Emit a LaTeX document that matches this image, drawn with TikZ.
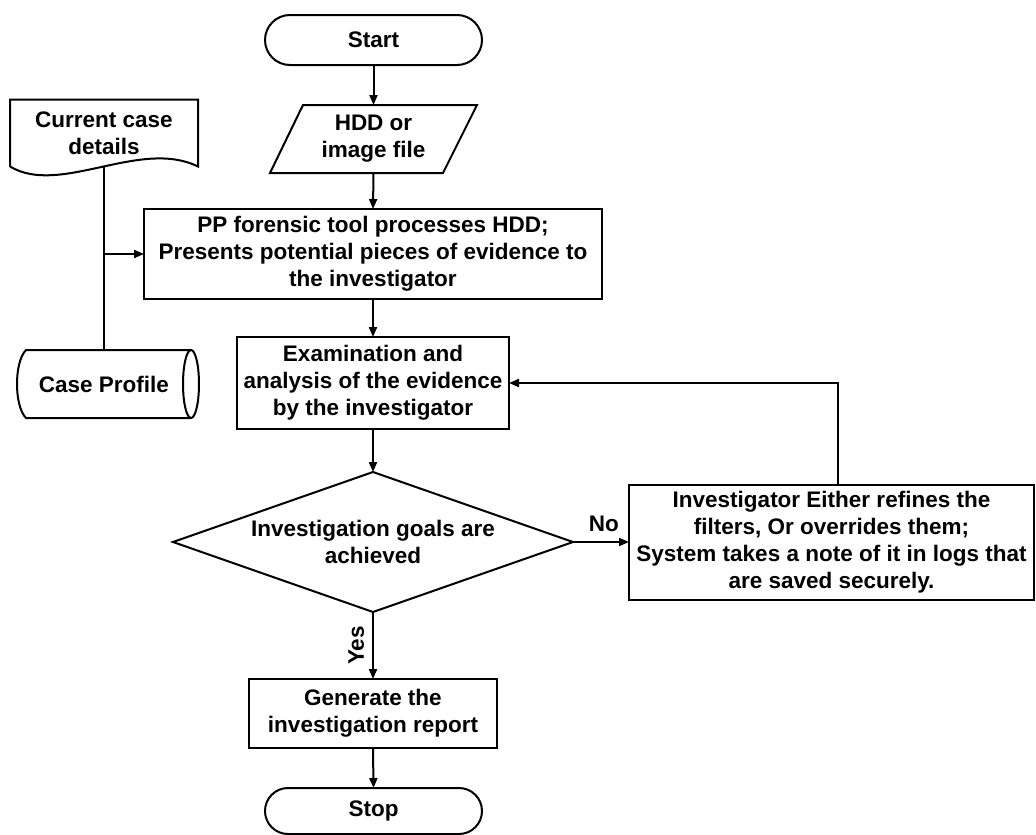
\documentclass[tikz,border=0pt]{standalone}
\usepackage{fontspec}
\setmainfont{Liberation Sans}
\usetikzlibrary{arrows.meta,calc}
\begin{document}
\begin{tikzpicture}[x=1pt,y=-1pt,
  every node/.style={font=\fontsize{22.5}{27}\selectfont\bfseries, align=center, inner sep=0pt, outer sep=0pt},
  line/.style={line width=2pt},
  arr/.style={line width=2pt,-{Triangle[length=10pt,width=8pt]}},
  box/.style={draw, line width=2pt, rectangle},
  term/.style={draw, line width=2pt, rectangle, rounded corners=25pt, minimum width=217pt, minimum height=50pt},
  lbl/.style={font=\fontsize{22.5}{27}\selectfont\bfseries}]
\useasboundingbox (0,0) rectangle (1036,835);

% nodes
\node[term] (start) at (373.5,40) {Start};
\node[minimum width=207pt, minimum height=68pt] (hdd) at (373.5,139) {HDD or\\image file};
\node[box, minimum width=458pt, minimum height=90pt] (pp) at (373,254) {PP forensic tool processes HDD;\\Presents potential pieces of evidence to\\the investigator};
\node[box, minimum width=272pt, minimum height=92pt] (exam) at (373,383) {Examination and\\analysis of the evidence\\by the investigator};
\node[minimum width=400pt, minimum height=140pt] (dec) at (373,542) {Investigation goals are\\achieved};
\node[box, minimum width=405pt, minimum height=115pt] (inv) at (831.5,542) {Investigator Either refines the\\filters, Or overrides them;\\System takes a note of it in logs that\\are saved securely.};
\node[box, minimum width=248pt, minimum height=69pt] (gen) at (373,713.5) {Generate the\\investigation report};
\node[draw, line width=2pt, rectangle, rounded corners=23pt, minimum width=217pt, minimum height=46pt] (stop) at (373.5,811) {Stop};
\node[minimum width=188pt, minimum height=67pt] (doc) at (104,133) {Current case\\details};
\node[minimum width=174pt, minimum height=68pt] (cp) at (104,384) {Case Profile};

% shapes drawn from anchors
\draw[line, line join=miter] ($(hdd.north west)+(33,0)$) -- (hdd.north east) -- ($(hdd.south east)+(-34,0)$) -- (hdd.south west) -- cycle;
\draw[line, line join=miter] (dec.north) -- (dec.east) -- (dec.south) -- (dec.west) -- cycle;
\draw[line] (doc.south west) -- (doc.north west) -- (doc.north east) -- (doc.south east)
  .. controls ($(doc.south east)+(-58,-28.5)$) and ($(doc.south west)+(50,30)$) .. (doc.south west);
\draw[line] (cp.north east) -- ($(cp.north west)+(9,0)$)
  .. controls ($(cp.north west)+(-3,12)$) and ($(cp.south west)+(-3,-12)$) .. ($(cp.south west)+(9,0)$)
  -- (cp.south east);
\draw[line] (cp.east) ellipse [x radius=8, y radius=34];

% connectors
\draw[arr] (start.south) -- (start.south |- hdd.north);
\draw[arr] (start.south |- hdd.south) -- (pp.north);
\draw[arr] (pp.south) -- (exam.north);
\draw[arr] (exam.south) -- (dec.north);
\draw[arr] (dec.east) -- (inv.west) node[lbl, pos=0.55, above=10pt] {No};
\draw[arr] ([xshift=6.5pt]inv.north) |- (exam.east);
\draw[arr] (dec.south) -- (gen.north) node[lbl, pos=0.5, left=9pt, rotate=90, anchor=south] {Yes};
\draw[arr] (gen.south) -- (stop.north);
\draw[line] (doc.south) -- (cp.north);
\draw[arr] (doc.south |- pp.west) -- (pp.west);
\end{tikzpicture}
\end{document}
